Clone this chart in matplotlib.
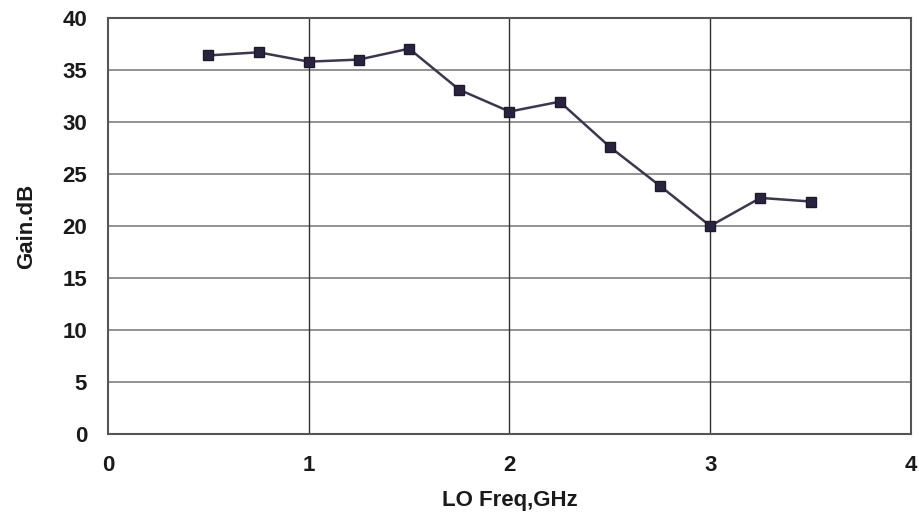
import matplotlib.pyplot as plt

freq_ghz = [0.5, 0.75, 1.0, 1.25, 1.5, 1.75, 2.0, 2.25, 2.5, 2.75, 3.0, 3.25, 3.5]
gain_db = [36.4, 36.7, 35.8, 36.0, 37.05, 33.1, 31.0, 31.95, 27.6, 23.85, 20.0, 22.7, 22.35]
x_ticks = [0, 1, 2, 3, 4]
y_ticks = [0, 5, 10, 15, 20, 25, 30, 35, 40]

plt.rcParams['font.family'] = ['Liberation Sans', 'DejaVu Sans']
plt.rcParams['font.weight'] = 'bold'

fig = plt.figure(figsize=(9.19, 5.18), dpi=100)
ax = fig.add_axes([0.1175, 0.1622, 0.8738, 0.8031])

for y in y_ticks[1:-1]:
    ax.axhline(y, color='#8a8a8a', lw=1.3, zorder=1)
for x in x_ticks[1:-1]:
    ax.axvline(x, color='#303030', lw=1.0, zorder=1)

ax.plot(freq_ghz, gain_db, color='#3e3650', lw=1.8, marker='s', markersize=7,
        markerfacecolor='#2a2340', markeredgecolor='#1e1a2e', zorder=3)

ax.set_xlim(0, 4)
ax.set_ylim(0, 40)
ax.set_xticks(x_ticks)
ax.set_yticks(y_ticks)
ax.tick_params(length=0, labelsize=16, labelcolor='#1a1a1a')
ax.tick_params(axis='x', pad=15)
ax.tick_params(axis='y', pad=15)
for s in ax.spines.values():
    s.set_color('#555555')
    s.set_linewidth(1.5)

ax.set_xlabel('LO Freq,GHz', fontsize=16, fontweight='bold', labelpad=10, color='#1a1a1a')
ax.set_ylabel('Gain.dB', fontsize=16, fontweight='bold', labelpad=18, color='#1a1a1a')

fig.savefig('out.png', dpi=100)
